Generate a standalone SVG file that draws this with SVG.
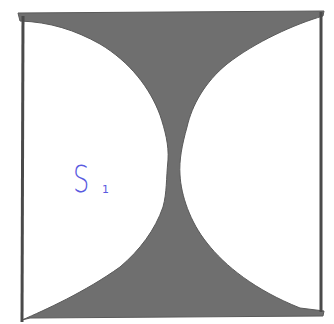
<svg xmlns="http://www.w3.org/2000/svg" width="334" height="324" viewBox="0 0 334 324">
<style>
.frame{fill:none;stroke:#4a4a4a;stroke-width:3}
.shade{fill:#6f6f6f;stroke:#5a5a5a;stroke-width:1}
.lbl{font-family:"DejaVu Sans","Liberation Sans",sans-serif;fill:#5a5ae0}
</style>
<rect width="334" height="324" fill="#ffffff"/>
<g id="shape">
<path class="shade" d="M18,13 L324,11 L323,16 C295,24 255,42 227,64 C205,82 192,105 187,127 C182,145 179,160 180,175 C181,195 190,222 207,243 C225,266 255,290 300,308 L324,311 L323,316 L30,318 L22,320 C45,310 85,292 120,267 C140,250 155,230 163,207 C167,192 166,180 168,160 C169,145 165,130 160,115 C150,88 130,62 100,44 C75,30 50,22 20,21 Z"/>
</g>
<g id="frame">
<line class="frame" x1="23" y1="16" x2="22" y2="322"/>
<line class="frame" x1="321" y1="12" x2="321" y2="312"/>
</g>
<g id="label">
<text class="lbl" transform="translate(73,192) scale(0.8,1.15)" font-size="32" font-weight="300">S</text>
<text class="lbl" x="102" y="193" font-size="11">1</text>
</g>
</svg>
